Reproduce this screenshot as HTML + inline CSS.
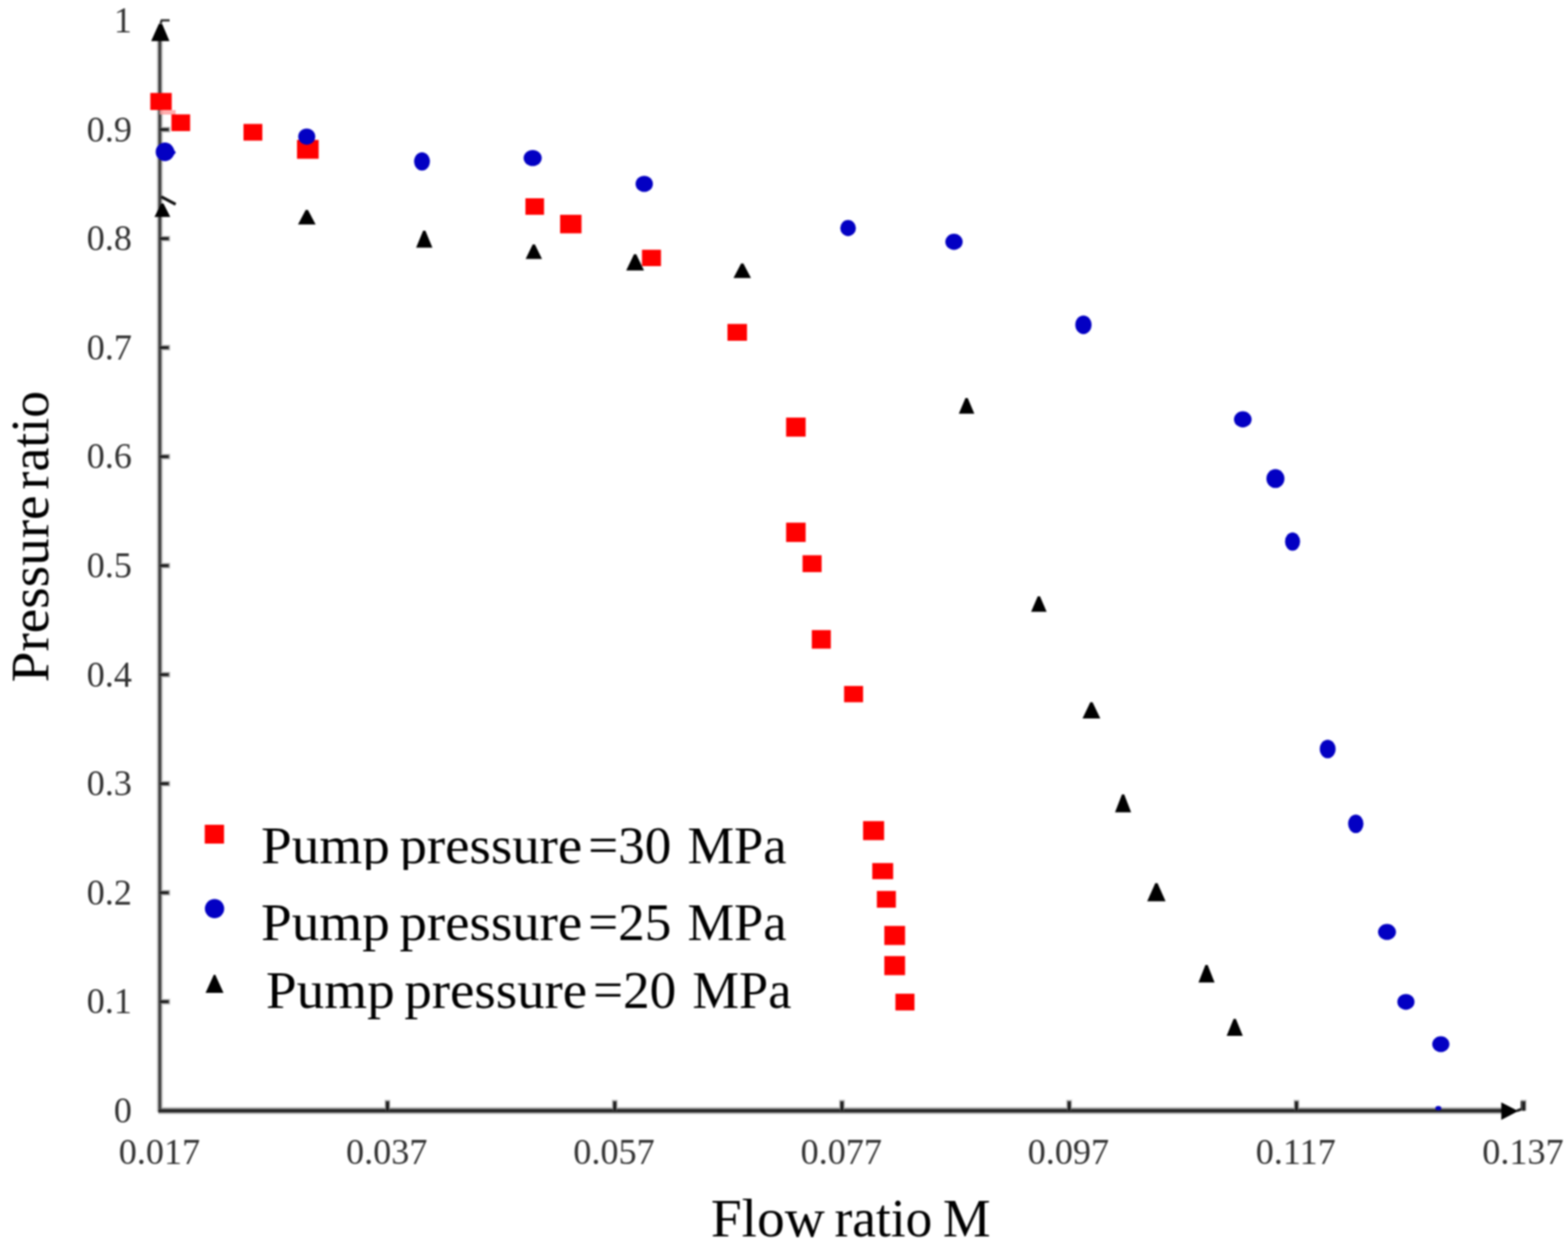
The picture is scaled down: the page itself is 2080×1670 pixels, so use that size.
<!DOCTYPE html>
<html><head><meta charset="utf-8"><title>Pressure ratio vs Flow ratio M</title>
<style>
html,body{margin:0;padding:0;background:#fff;}
body{width:2080px;height:1670px;overflow:hidden;}
svg{display:block;filter:blur(1px);}
.tl{font-family:"Liberation Serif","Times New Roman",serif;font-size:48px;fill:#333;}
.at{font-family:"Liberation Serif","Times New Roman",serif;font-size:71px;fill:#000;}
.lg{font-family:"Liberation Serif","Times New Roman",serif;font-size:70px;fill:#000;}
</style></head>
<body>
<svg width="2080" height="1670" viewBox="0 0 2080 1670">
<defs><clipPath id="c1" clipPathUnits="userSpaceOnUse"><rect x="300" y="1080" width="800" height="74"/></clipPath></defs>
<rect width="2080" height="1670" fill="#fff"/>
<line x1="212.0" y1="1475.3" x2="212.0" y2="50" stroke="#cfcfcf" stroke-width="8.5"/>
<line x1="210.0" y1="1473.3" x2="1995" y2="1473.3" stroke="#c4c4c4" stroke-width="9.5"/>
<line x1="212.0" y1="1328.7" x2="226" y2="1328.7" stroke="#d2d2d2" stroke-width="8"/>
<line x1="212.0" y1="1184.1" x2="226" y2="1184.1" stroke="#d2d2d2" stroke-width="8"/>
<line x1="212.0" y1="1039.5" x2="226" y2="1039.5" stroke="#d2d2d2" stroke-width="8"/>
<line x1="212.0" y1="894.9" x2="226" y2="894.9" stroke="#d2d2d2" stroke-width="8"/>
<line x1="212.0" y1="750.3" x2="226" y2="750.3" stroke="#d2d2d2" stroke-width="8"/>
<line x1="212.0" y1="605.7" x2="226" y2="605.7" stroke="#d2d2d2" stroke-width="8"/>
<line x1="212.0" y1="461.1" x2="226" y2="461.1" stroke="#d2d2d2" stroke-width="8"/>
<line x1="212.0" y1="316.5" x2="226" y2="316.5" stroke="#d2d2d2" stroke-width="8"/>
<line x1="212.0" y1="171.9" x2="226" y2="171.9" stroke="#d2d2d2" stroke-width="8"/>
<line x1="514" y1="1473.3" x2="514" y2="1458.5" stroke="#d2d2d2" stroke-width="8"/>
<line x1="815.5" y1="1473.3" x2="815.5" y2="1458.5" stroke="#d2d2d2" stroke-width="8"/>
<line x1="1116.9" y1="1473.3" x2="1116.9" y2="1458.5" stroke="#d2d2d2" stroke-width="8"/>
<line x1="1418.3" y1="1473.3" x2="1418.3" y2="1458.5" stroke="#d2d2d2" stroke-width="8"/>
<line x1="1719.8" y1="1473.3" x2="1719.8" y2="1458.5" stroke="#d2d2d2" stroke-width="8"/>
<line x1="2021.2" y1="1473.3" x2="2021.2" y2="1458.5" stroke="#d2d2d2" stroke-width="8"/>
<line x1="212.0" y1="1475.3" x2="212.0" y2="50" stroke="#444" stroke-width="4.2"/>
<line x1="210.0" y1="1473.3" x2="1995" y2="1473.3" stroke="#4a4a4a" stroke-width="5.5"/>
<line x1="210.0" y1="1473.3" x2="1995" y2="1473.3" stroke="#1c1c1c" stroke-width="2.2"/>
<polygon points="210.8,31.5 215,31.5 224.8,54.5 200.5,54.5" fill="#000"/>
<polyline points="213,31 214.5,27 225,27" fill="none" stroke="#333" stroke-width="3.2"/>
<polygon points="1991.5,1462.3 2014,1473.8 1991.5,1485.5" fill="#000"/>
<polyline points="2012,1473.5 2019,1471 2019,1460.5" fill="none" stroke="#222" stroke-width="3.6"/>
<line x1="212.0" y1="1328.7" x2="224.5" y2="1328.7" stroke="#555" stroke-width="5"/>
<line x1="212.0" y1="1328.7" x2="223" y2="1328.7" stroke="#111" stroke-width="2.2"/>
<line x1="212.0" y1="1184.1" x2="224.5" y2="1184.1" stroke="#555" stroke-width="5"/>
<line x1="212.0" y1="1184.1" x2="223" y2="1184.1" stroke="#111" stroke-width="2.2"/>
<line x1="212.0" y1="1039.5" x2="224.5" y2="1039.5" stroke="#555" stroke-width="5"/>
<line x1="212.0" y1="1039.5" x2="223" y2="1039.5" stroke="#111" stroke-width="2.2"/>
<line x1="212.0" y1="894.9" x2="224.5" y2="894.9" stroke="#555" stroke-width="5"/>
<line x1="212.0" y1="894.9" x2="223" y2="894.9" stroke="#111" stroke-width="2.2"/>
<line x1="212.0" y1="750.3" x2="224.5" y2="750.3" stroke="#555" stroke-width="5"/>
<line x1="212.0" y1="750.3" x2="223" y2="750.3" stroke="#111" stroke-width="2.2"/>
<line x1="212.0" y1="605.7" x2="224.5" y2="605.7" stroke="#555" stroke-width="5"/>
<line x1="212.0" y1="605.7" x2="223" y2="605.7" stroke="#111" stroke-width="2.2"/>
<line x1="212.0" y1="461.1" x2="224.5" y2="461.1" stroke="#555" stroke-width="5"/>
<line x1="212.0" y1="461.1" x2="223" y2="461.1" stroke="#111" stroke-width="2.2"/>
<line x1="212.0" y1="316.5" x2="224.5" y2="316.5" stroke="#555" stroke-width="5"/>
<line x1="212.0" y1="316.5" x2="223" y2="316.5" stroke="#111" stroke-width="2.2"/>
<line x1="212.0" y1="171.9" x2="224.5" y2="171.9" stroke="#555" stroke-width="5"/>
<line x1="212.0" y1="171.9" x2="223" y2="171.9" stroke="#111" stroke-width="2.2"/>
<line x1="514" y1="1473.3" x2="514" y2="1460.3" stroke="#555" stroke-width="5.5"/>
<line x1="514" y1="1473.3" x2="514" y2="1461.5" stroke="#0a0a0a" stroke-width="2.2"/>
<line x1="815.5" y1="1473.3" x2="815.5" y2="1460.3" stroke="#555" stroke-width="5.5"/>
<line x1="815.5" y1="1473.3" x2="815.5" y2="1461.5" stroke="#0a0a0a" stroke-width="2.2"/>
<line x1="1116.9" y1="1473.3" x2="1116.9" y2="1460.3" stroke="#555" stroke-width="5.5"/>
<line x1="1116.9" y1="1473.3" x2="1116.9" y2="1461.5" stroke="#0a0a0a" stroke-width="2.2"/>
<line x1="1418.3" y1="1473.3" x2="1418.3" y2="1460.3" stroke="#555" stroke-width="5.5"/>
<line x1="1418.3" y1="1473.3" x2="1418.3" y2="1461.5" stroke="#0a0a0a" stroke-width="2.2"/>
<line x1="1719.8" y1="1473.3" x2="1719.8" y2="1460.3" stroke="#555" stroke-width="5.5"/>
<line x1="1719.8" y1="1473.3" x2="1719.8" y2="1461.5" stroke="#0a0a0a" stroke-width="2.2"/>
<line x1="2021.2" y1="1473.3" x2="2021.2" y2="1460.3" stroke="#555" stroke-width="5.5"/>
<line x1="2021.2" y1="1473.3" x2="2021.2" y2="1461.5" stroke="#0a0a0a" stroke-width="2.2"/>
<text x="175" y="1489" text-anchor="end" class="tl">0</text>
<text x="175" y="1344.4" text-anchor="end" class="tl">0.1</text>
<text x="175" y="1199.8" text-anchor="end" class="tl">0.2</text>
<text x="175" y="1055.2" text-anchor="end" class="tl">0.3</text>
<text x="175" y="910.6" text-anchor="end" class="tl">0.4</text>
<text x="175" y="766" text-anchor="end" class="tl">0.5</text>
<text x="175" y="621.4" text-anchor="end" class="tl">0.6</text>
<text x="175" y="476.8" text-anchor="end" class="tl">0.7</text>
<text x="175" y="332.2" text-anchor="end" class="tl">0.8</text>
<text x="175" y="187.6" text-anchor="end" class="tl">0.9</text>
<text x="175" y="43" text-anchor="end" class="tl">1</text>
<text x="211.6" y="1544" text-anchor="middle" class="tl">0.017</text>
<text x="513" y="1544" text-anchor="middle" class="tl">0.037</text>
<text x="814.5" y="1544" text-anchor="middle" class="tl">0.057</text>
<text x="1115.9" y="1544" text-anchor="middle" class="tl">0.077</text>
<text x="1417.3" y="1544" text-anchor="middle" class="tl">0.097</text>
<text x="1718.8" y="1544" text-anchor="middle" class="tl">0.117</text>
<text x="2020.2" y="1544" text-anchor="middle" class="tl">0.137</text>
<text x="942.90" y="1640" class="at" textLength="151.10" lengthAdjust="spacingAndGlyphs">Flow</text>
<text x="1106.90" y="1640" class="at" textLength="129.90" lengthAdjust="spacingAndGlyphs">ratio</text>
<text x="1250.70" y="1640" class="at" textLength="63.30" lengthAdjust="spacingAndGlyphs">M</text>
<text transform="translate(64.4,905.00) rotate(-90)" x="0" y="0" class="at" textLength="247.80" lengthAdjust="spacingAndGlyphs">Pressure</text>
<text transform="translate(64.4,649.40) rotate(-90)" x="0" y="0" class="at" textLength="130.90" lengthAdjust="spacingAndGlyphs">ratio</text>
<line x1="214" y1="261" x2="233" y2="271" stroke="#111" stroke-width="4"/>
<rect x="211.6" y="146" width="21.4" height="6" fill="#ff9a9a" opacity="0.8"/>
<circle cx="218.8" cy="201.4" r="12.3" fill="#0300c3"/>
<polygon points="225,190.8 233.3,202.3 225,212.2" fill="#0300c3"/>
<ellipse cx="1908" cy="1470" rx="4" ry="3" fill="#0300c3"/>
<rect x="199.4" y="123.3" width="28.4" height="22.6" fill="#ff0000"/>
<rect x="227.4" y="151.7" width="24.8" height="22.2" fill="#ff0000"/>
<rect x="323" y="164.4" width="25" height="22.1" fill="#ff0000"/>
<rect x="394" y="185.6" width="28.7" height="25" fill="#ff0000"/>
<rect x="697" y="263" width="24.7" height="21.9" fill="#ff0000"/>
<rect x="743" y="284.9" width="28.4" height="24.6" fill="#ff0000"/>
<rect x="851.6" y="331.3" width="25.2" height="21.7" fill="#ff0000"/>
<rect x="965" y="429.7" width="25.9" height="22.3" fill="#ff0000"/>
<rect x="1042.8" y="553.9" width="25.9" height="25.3" fill="#ff0000"/>
<rect x="1042.8" y="693.3" width="25.9" height="25.6" fill="#ff0000"/>
<rect x="1064.6" y="736.5" width="25.3" height="22.4" fill="#ff0000"/>
<rect x="1076.9" y="835.8" width="25.2" height="24.6" fill="#ff0000"/>
<rect x="1119.7" y="909.9" width="25.2" height="21.6" fill="#ff0000"/>
<rect x="1144.9" y="1089.2" width="27.9" height="25.2" fill="#ff0000"/>
<rect x="1157.1" y="1144.8" width="27.7" height="21.4" fill="#ff0000"/>
<rect x="1163.2" y="1181.8" width="25.2" height="22.2" fill="#ff0000"/>
<rect x="1173.1" y="1228.2" width="27.5" height="25.3" fill="#ff0000"/>
<rect x="1173.1" y="1268.2" width="27.5" height="25.3" fill="#ff0000"/>
<rect x="1187.8" y="1318.1" width="25.3" height="22.2" fill="#ff0000"/>
<ellipse cx="406.9" cy="181.2" rx="11.3" ry="10.8" fill="#0300c3"/>
<ellipse cx="559.8" cy="214.1" rx="10.5" ry="12.2" fill="#0300c3"/>
<ellipse cx="706.6" cy="209.6" rx="12" ry="10.7" fill="#0300c3"/>
<ellipse cx="854.6" cy="243.9" rx="11.5" ry="10.7" fill="#0300c3"/>
<ellipse cx="1125" cy="302.5" rx="10.4" ry="10.7" fill="#0300c3"/>
<ellipse cx="1265.5" cy="320.7" rx="11.5" ry="10.7" fill="#0300c3"/>
<ellipse cx="1437.2" cy="430.8" rx="10.8" ry="12.4" fill="#0300c3"/>
<ellipse cx="1648.6" cy="556.3" rx="11.7" ry="10.7" fill="#0300c3"/>
<ellipse cx="1691.9" cy="634.8" rx="12" ry="12.5" fill="#0300c3"/>
<ellipse cx="1714.6" cy="718.4" rx="10" ry="12.2" fill="#0300c3"/>
<ellipse cx="1761.2" cy="993.5" rx="10.5" ry="12.3" fill="#0300c3"/>
<ellipse cx="1798.5" cy="1092.7" rx="10.2" ry="12.3" fill="#0300c3"/>
<ellipse cx="1839.9" cy="1236.2" rx="11.9" ry="10.6" fill="#0300c3"/>
<ellipse cx="1865" cy="1328.9" rx="11.4" ry="10.5" fill="#0300c3"/>
<ellipse cx="1911.3" cy="1385.1" rx="11.4" ry="10.5" fill="#0300c3"/>
<polygon points="213.9,270 216.9,270 225.9,287.8 204.9,287.8" fill="#000"/>
<polygon points="405.5,278.5 408.5,278.5 418.7,297.7 395.3,297.7" fill="#000"/>
<polygon points="561.3,306 564.3,306 573.6,328.4 552,328.4" fill="#000"/>
<polygon points="706.6,324.2 709.6,324.2 719,343.6 697.3,343.6" fill="#000"/>
<polygon points="841,337.3 844,337.3 854.3,358.7 830.7,358.7" fill="#000"/>
<polygon points="983.1,349.5 986.1,349.5 996.2,368.8 973,368.8" fill="#000"/>
<polygon points="1280.7,528 1283.7,528 1292.5,548.7 1271.9,548.7" fill="#000"/>
<polygon points="1376.6,791.1 1379.6,791.1 1388.4,811.5 1367.8,811.5" fill="#000"/>
<polygon points="1446.3,931.5 1449.3,931.5 1459.6,953 1436,953" fill="#000"/>
<polygon points="1488.3,1053.8 1491.3,1053.8 1500.5,1077.4 1479.1,1077.4" fill="#000"/>
<polygon points="1532.5,1171.5 1535.5,1171.5 1546.2,1195.4 1521.8,1195.4" fill="#000"/>
<polygon points="1599,1280 1602,1280 1611.2,1303.2 1589.8,1303.2" fill="#000"/>
<polygon points="1636.4,1351.5 1639.4,1351.5 1648.6,1374 1627.2,1374" fill="#000"/>
<rect x="271.6" y="1094" width="25.6" height="25" fill="#ff0000"/>
<ellipse cx="284.6" cy="1205.3" rx="12.8" ry="12.7" fill="#0300c3"/>
<polygon points="283.6,1293 285.6,1293 296.5,1317 272.7,1317" fill="#000"/>
<text x="346.20" y="1145" class="lg" textLength="171.00" lengthAdjust="spacingAndGlyphs" clip-path="url(#c1)">Pump</text>
<text x="530.00" y="1145" class="lg" textLength="242.30" lengthAdjust="spacingAndGlyphs" clip-path="url(#c1)">pressure</text>
<text x="780.30" y="1145" class="lg" textLength="110.30" lengthAdjust="spacingAndGlyphs" clip-path="url(#c1)">=30</text>
<text x="911.90" y="1145" class="lg" textLength="131.50" lengthAdjust="spacingAndGlyphs" clip-path="url(#c1)">MPa</text>
<text x="346.20" y="1247" class="lg" textLength="171.00" lengthAdjust="spacingAndGlyphs">Pump</text>
<text x="530.00" y="1247" class="lg" textLength="242.30" lengthAdjust="spacingAndGlyphs">pressure</text>
<text x="780.30" y="1247" class="lg" textLength="110.30" lengthAdjust="spacingAndGlyphs">=25</text>
<text x="911.90" y="1247" class="lg" textLength="131.50" lengthAdjust="spacingAndGlyphs">MPa</text>
<text x="352.70" y="1336.5" class="lg" textLength="171.00" lengthAdjust="spacingAndGlyphs">Pump</text>
<text x="536.50" y="1336.5" class="lg" textLength="242.30" lengthAdjust="spacingAndGlyphs">pressure</text>
<text x="786.80" y="1336.5" class="lg" textLength="110.30" lengthAdjust="spacingAndGlyphs">=20</text>
<text x="918.40" y="1336.5" class="lg" textLength="131.50" lengthAdjust="spacingAndGlyphs">MPa</text>
</svg>
</body></html>
